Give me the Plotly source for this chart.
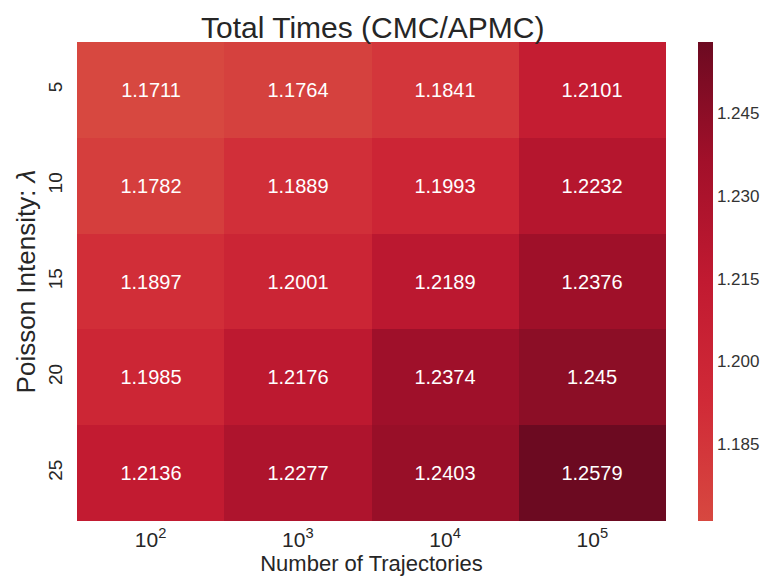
import plotly.graph_objects as go

x_labels = ["10<sup>2</sup>", "10<sup>3</sup>", "10<sup>4</sup>", "10<sup>5</sup>"]
y_labels = ["5", "10", "15", "20", "25"]
values = [
    [1.1711, 1.1764, 1.1841, 1.2101],
    [1.1782, 1.1889, 1.1993, 1.2232],
    [1.1897, 1.2001, 1.2189, 1.2376],
    [1.1985, 1.2176, 1.2374, 1.245],
    [1.2136, 1.2277, 1.2403, 1.2579],
]
cbar_ticks = [1.185, 1.200, 1.215, 1.230, 1.245]

text = [[str(v) for v in row] for row in values]
zmin = min(min(r) for r in values)
zmax = max(max(r) for r in values)

colorscale = [
    [0.0, "#d74840"],
    [0.25, "#d02a37"],
    [0.5, "#c11a31"],
    [0.75, "#a2102a"],
    [1.0, "#6c0a21"],
]

FONT = "Liberation Sans, Arial, sans-serif"

fig = go.Figure(go.Heatmap(
    z=values,
    x=list(range(len(x_labels))),
    y=list(range(len(y_labels))),
    text=text,
    texttemplate="%{text}",
    textfont=dict(color="white", size=20, family=FONT),
    colorscale=colorscale,
    zmin=zmin, zmax=zmax,
    xgap=0, ygap=0,
    colorbar=dict(
        x=1.054, xanchor="left", xpad=0, ypad=0,
        y=0.5, yanchor="middle", len=1.0, lenmode="fraction",
        thickness=15, outlinewidth=0,
        tickvals=cbar_ticks, ticktext=[f"{t:.3f}" for t in cbar_ticks],
        ticks="", ticklen=0,
        tickfont=dict(size=17, color="#333", family=FONT),
    ),
    hoverinfo="skip",
))

fig.update_layout(
    width=783, height=584,
    margin=dict(l=77, r=117, t=42, b=63),
    paper_bgcolor="white", plot_bgcolor="white",
    font=dict(family=FONT, color="#262626"),
    title=dict(text="Total Times (CMC/APMC)", x=0.476, xanchor="center",
               y=0.953, yanchor="middle",
               font=dict(size=30, color="#262626")),
)
fig.update_xaxes(
    tickvals=list(range(len(x_labels))), ticktext=x_labels,
    tickfont=dict(size=21), showgrid=False, zeroline=False, ticks="",
    ticklabelstandoff=4,
    title=dict(text="Number of Trajectories", font=dict(size=22), standoff=0),
)
fig.update_yaxes(
    tickvals=list(range(len(y_labels))), ticktext=y_labels,
    tickangle=-90, autorange="reversed",
    tickfont=dict(size=19), showgrid=False, zeroline=False, ticks="",
    ticklabelstandoff=10,
    title=dict(text="Poisson Intensity: <i>λ</i>", font=dict(size=26), standoff=2),
)

fig.write_html("out.html")
